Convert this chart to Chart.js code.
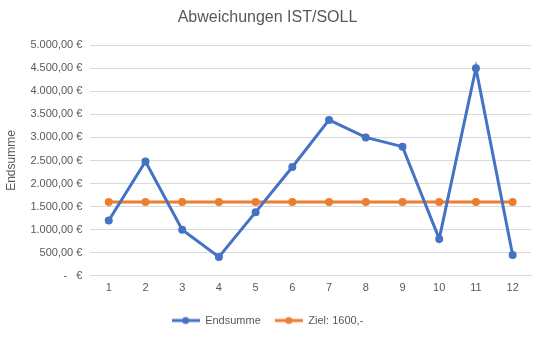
<!DOCTYPE html>
<html lang="de">
<head>
    <meta charset="UTF-8">
    <title>Abweichungen IST/SOLL</title>
    <script src="https://cdn.jsdelivr.net/npm/chart.js"></script>
    <style>
        html, body { margin: 0; padding: 0; background: #fff; }
        #wrap { width: 540px; height: 338px; }
    </style>
</head>
<body>
    <div id="wrap"><canvas id="chart" width="540" height="338"></canvas></div>
    <script>
        // Werte
        const months = ['1', '2', '3', '4', '5', '6', '7', '8', '9', '10', '11', '12'];
        const endsumme = [1200, 2480, 1000, 410, 1380, 2360, 3380, 3000, 2800, 800, 4500, 450];
        const ziel = [1600, 1600, 1600, 1600, 1600, 1600, 1600, 1600, 1600, 1600, 1600, 1600];

        const BLUE = '#4472C4';
        const ORANGE = '#ED7D31';
        const TEXT = '#595959';
        const FONT = "'Liberation Sans', Arial, sans-serif";

        // kleines Legendensymbol: Linie mit Punkt (wie Excel)
        function legendIcon(color) {
            const c = document.createElement('canvas');
            c.width = 28; c.height = 10;
            const g = c.getContext('2d');
            g.strokeStyle = color; g.lineWidth = 3;
            g.beginPath(); g.moveTo(0, 5); g.lineTo(28, 5); g.stroke();
            g.fillStyle = color;
            g.beginPath(); g.arc(14, 5, 3.5, 0, Math.PI * 2); g.fill();
            return c;
        }

        function euro(v) {
            if (v === 0) return '-   €';
            return v.toLocaleString('de-DE', { minimumFractionDigits: 2, maximumFractionDigits: 2 }) + ' €';
        }

        new Chart(document.getElementById('chart'), {
            type: 'line',
            data: {
                labels: months,
                datasets: [
                    {
                        label: 'Endsumme',
                        data: endsumme,
                        borderColor: BLUE,
                        backgroundColor: BLUE,
                        borderWidth: 3,
                        pointRadius: 4,
                        pointBorderWidth: 0,
                        tension: 0
                    },
                    {
                        label: 'Ziel: 1600,-',
                        data: ziel,
                        borderColor: ORANGE,
                        backgroundColor: ORANGE,
                        borderWidth: 3,
                        pointRadius: 4,
                        pointBorderWidth: 0,
                        tension: 0
                    }
                ]
            },
            options: {
                responsive: false,
                animation: false,
                layout: { padding: { left: 4, right: 9, top: 0, bottom: 2 } },
                plugins: {
                    title: {
                        display: true,
                        text: 'Abweichungen IST/SOLL',
                        color: TEXT,
                        font: { family: FONT, size: 16, weight: 'normal' },
                        padding: { top: 8, bottom: 18 }
                    },
                    legend: {
                        position: 'bottom',
                        labels: {
                            color: TEXT,
                            font: { family: FONT, size: 11 },
                            usePointStyle: true,
                            pointStyleWidth: 28,
                            boxHeight: 10,
                            padding: 14,
                            generateLabels: (chart) => chart.data.datasets.map((ds, i) => ({
                                text: ds.label,
                                fontColor: TEXT,
                                pointStyle: legendIcon(ds.borderColor),
                                datasetIndex: i,
                                hidden: false,
                                lineWidth: 0
                            }))
                        }
                    },
                    tooltip: { enabled: false }
                },
                scales: {
                    x: {
                        offset: true,
                        grid: { display: false, drawTicks: false },
                        border: { display: true, color: '#d9d9d9' },
                        ticks: {
                            color: TEXT,
                            font: { family: FONT, size: 11 },
                            padding: 6
                        }
                    },
                    y: {
                        min: 0,
                        max: 5000,
                        grid: { color: '#d9d9d9', drawTicks: false },
                        border: { display: false },
                        ticks: {
                            stepSize: 500,
                            color: TEXT,
                            font: { family: FONT, size: 11 },
                            padding: 8,
                            callback: (v) => euro(v)
                        },
                        title: {
                            display: true,
                            text: 'Endsumme',
                            color: TEXT,
                            font: { family: FONT, size: 12 },
                            padding: { top: 0, bottom: 4 }
                        }
                    }
                }
            }
        });
    </script>
</body>
</html>
